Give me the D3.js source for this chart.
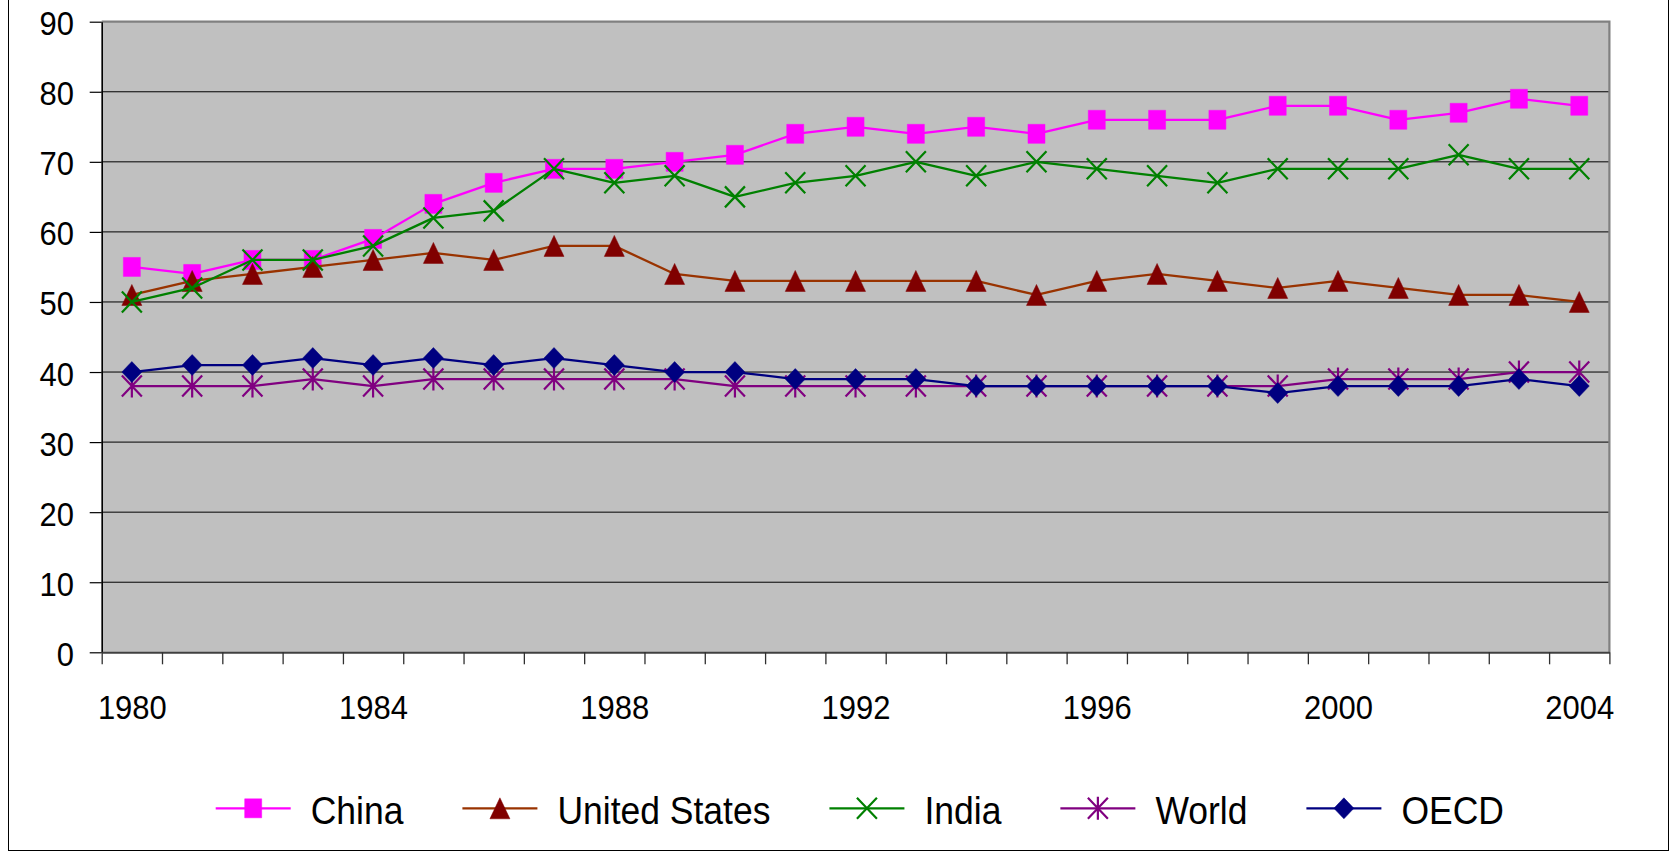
<!DOCTYPE html>
<html>
<head>
<meta charset="utf-8">
<script src="https://cdn.jsdelivr.net/npm/d3@7"></script>
<style>
  html, body { margin: 0; padding: 0; background: #ffffff; }
  svg { display: block; }
  text { font-family: "Liberation Sans", Arial, Helvetica, sans-serif; fill: #000; }
</style>
</head>
<body>
<svg id="chart" width="1672" height="853"></svg>
<script>
// Years on the category axis
const years = [1980,1981,1982,1983,1984,1985,1986,1987,1988,1989,1990,1991,1992,
               1993,1994,1995,1996,1997,1998,1999,2000,2001,2002,2003,2004];
const yearLabels = [1980,1984,1988,1992,1996,2000,2004];
const valueTicks = [0,10,20,30,40,50,60,70,80,90];

// Series values, one per year
const china = [55,54,56,56,59,64,67,69,69,70,71,74,75,74,75,74,76,76,76,78,78,76,77,79,78];
const unitedStates = [51,53,54,55,56,57,56,58,58,54,53,53,53,53,53,51,53,54,53,52,53,52,51,51,50];
const india = [50,52,56,56,58,62,63,69,67,68,65,67,68,70,68,70,69,68,67,69,69,69,71,69,69];
const world = [38,38,38,39,38,39,39,39,39,39,38,38,38,38,38,38,38,38,38,38,39,39,39,40,40];
const oecd = [40,41,41,42,41,42,41,42,41,40,40,39,39,39,38,38,38,38,38,37,38,38,38,39,38];

const seriesNames = ["China","United States","India","World","OECD"];
const seriesValues = [china, unitedStates, india, world, oecd];
const lineColors = ["#ff00ff","#993300","#008000","#800080","#000080"];
const markerColors = ["#ff00ff","#800000","#008000","#800080","#000080"];
const markerShapes = ["square","triangle","cross","star","diamond"];

const svg = d3.select("#chart");
const plot = { left: 101.7, right: 1609.4, top: 21.7, bottom: 652.3 };
const TEXT_STRETCH = 1.1;

// Category scale: each year sits in the middle of its slot
const x = d3.scaleLinear().domain([years[0] - 0.5, years[years.length - 1] + 0.5])
  .range([plot.left, plot.right]);
const y = d3.scaleLinear().domain([0, 90]).range([plot.bottom, plot.top]);

// Outer chart frame
svg.append("rect")
  .attr("x", 8.5).attr("y", -5).attr("width", 1660).attr("height", 855.5)
  .attr("fill", "#fff").attr("stroke", "#000").attr("stroke-width", 1);

// Plot background
svg.append("rect")
  .attr("x", plot.left).attr("y", plot.top)
  .attr("width", plot.right - plot.left).attr("height", plot.bottom - plot.top)
  .attr("fill", "#c0c0c0");

// Horizontal gridlines
svg.append("g")
  .selectAll("line")
  .data(valueTicks.filter(v => v > 0 && v < 90))
  .join("line")
  .attr("x1", plot.left).attr("x2", plot.right)
  .attr("y1", d => y(d)).attr("y2", d => y(d))
  .attr("stroke", "#000").attr("stroke-width", 1);

// Plot frame on the top and right
svg.append("path")
  .attr("d", `M${plot.left},${y(90)}H${plot.right}V${plot.bottom}`)
  .attr("fill", "none").attr("stroke", "#808080").attr("stroke-width", 2.2);

// Value axis
const yAxis = svg.append("g")
  .attr("transform", `translate(${plot.left},0)`)
  .call(d3.axisLeft(y).tickValues(valueTicks).tickSize(12).tickPadding(15.7).tickSizeOuter(0));
yAxis.select(".domain").attr("stroke", "#000").attr("stroke-width", 1.6);
yAxis.selectAll(".tick line").attr("stroke", "#000").attr("stroke-width", 1.2);
yAxis.selectAll(".tick text")
  .attr("font-size", 31).attr("dy", null).attr("y", 11.8)
  .attr("font-family", "Liberation Sans, Arial, sans-serif")
  .attr("transform", `scale(1,${TEXT_STRETCH})`);

// Category axis: tick marks between years
const boundaries = years.map(d => d - 0.5).concat([years[years.length - 1] + 0.5]);
const xTicks = svg.append("g")
  .attr("transform", `translate(0,${plot.bottom})`)
  .call(d3.axisBottom(x).tickValues(boundaries).tickFormat("").tickSize(12).tickSizeOuter(0));
xTicks.select(".domain").attr("stroke", "#404040").attr("stroke-width", 2);
xTicks.selectAll(".tick line").attr("stroke", "#303030").attr("stroke-width", 1.3);

// Category axis: year labels
const xLabels = svg.append("g")
  .attr("transform", `translate(0,${plot.bottom})`)
  .call(d3.axisBottom(x).tickValues(yearLabels).tickFormat(d3.format("d")).tickSize(0));
xLabels.select(".domain").remove();
xLabels.selectAll(".tick text")
  .attr("font-size", 31).attr("dy", null).attr("y", 60.9)
  .attr("font-family", "Liberation Sans, Arial, sans-serif")
  .attr("transform", `scale(1,${TEXT_STRETCH})`);

// Marker shapes, drawn around (0,0)
function markerPath(shape) {
  switch (shape) {
    case "square":   return "M-8.5,-9.5H8.5V9.5H-8.5Z";
    case "triangle": return "M0,-10.5L10,10.5H-10Z";
    case "diamond":  return "M0,-10.5L10,0L0,10.5L-10,0Z";
    case "cross":    return "M-10,-10.5L10,10.5M10,-10.5L-10,10.5";
    case "star":     return "M-10,-10.5L10,10.5M10,-10.5L-10,10.5M0,-11.5V11.5";
  }
}
function drawMarker(sel, i) {
  const shape = markerShapes[i];
  const open = shape === "cross" || shape === "star";
  sel.append("path")
    .attr("d", markerPath(shape))
    .attr("fill", open ? "none" : markerColors[i])
    .attr("stroke", markerColors[i])
    .attr("stroke-width", open ? 2.2 : 0.5)
    .attr("stroke-linejoin", "miter");
}

const line = d3.line().x((d, j) => x(years[j])).y(d => y(d));

// Series: line then its markers
seriesValues.forEach((vals, i) => {
  const g = svg.append("g");
  g.append("path")
    .datum(vals)
    .attr("d", line)
    .attr("fill", "none")
    .attr("stroke", lineColors[i])
    .attr("stroke-width", 2.3)
    .attr("stroke-linejoin", "round");
  g.selectAll("g.m")
    .data(vals)
    .join("g")
    .attr("class", "m")
    .attr("transform", (d, j) => `translate(${x(years[j])},${y(d)})`)
    .each(function () { drawMarker(d3.select(this), i); });
});

// Legend along the bottom
const legendY = 808.3;
const legendBaseline = 824;
let cursor = 215.7;
seriesNames.forEach((name, i) => {
  const g = svg.append("g");
  g.append("line")
    .attr("x1", cursor).attr("x2", cursor + 75)
    .attr("y1", legendY).attr("y2", legendY)
    .attr("stroke", lineColors[i]).attr("stroke-width", 2.2);
  const m = g.append("g").attr("transform", `translate(${cursor + 37.5},${legendY})`);
  drawMarker(m, i);
  const t = g.append("text")
    .attr("font-size", 35.5)
    .attr("transform", `translate(${cursor + 95},${legendBaseline}) scale(1,${TEXT_STRETCH})`)
    .text(name);
  cursor += 95 + t.node().getComputedTextLength() + 59;
});
</script>
</body>
</html>
